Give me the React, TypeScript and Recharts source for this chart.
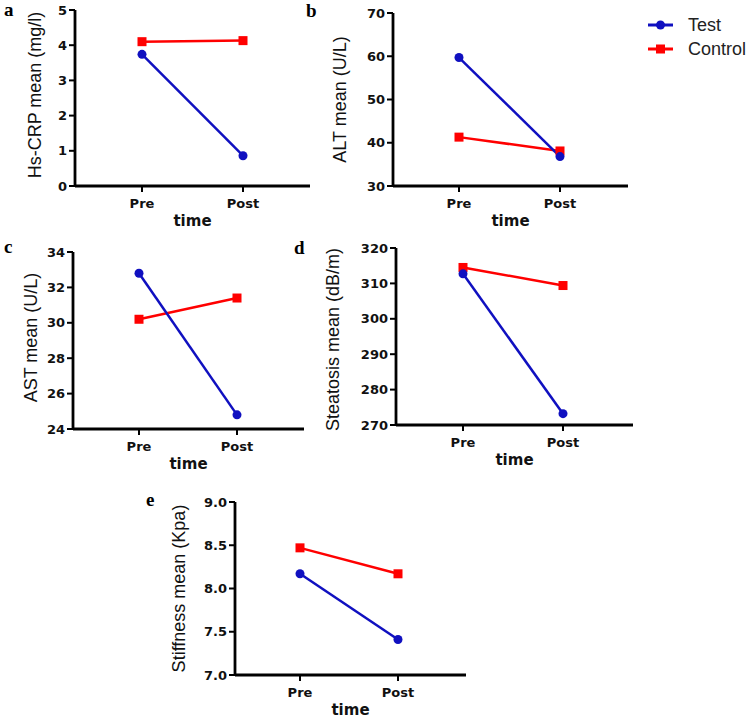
import { LineChart, Line, XAxis, YAxis, Legend } from "recharts";

const timePoints = ["Pre", "Post"];

const hsCrpTest = [3.74, 0.86];
const hsCrpControl = [4.1, 4.13];
const altTest = [59.7, 36.8];
const altControl = [41.3, 38.1];
const astTest = [32.8, 24.8];
const astControl = [30.2, 31.4];
const steatosisTest = [312.7, 273.2];
const steatosisControl = [314.5, 309.4];
const stiffnessTest = [8.17, 7.41];
const stiffnessControl = [8.47, 8.17];

const hsCrpTicks = [0, 1, 2, 3, 4, 5];
const altTicks = [30, 40, 50, 60, 70];
const astTicks = [24, 26, 28, 30, 32, 34];
const steatosisTicks = [270, 280, 290, 300, 310, 320];
const stiffnessTicks = [7.0, 7.5, 8.0, 8.5, 9.0];

const BLUE = "#1010c0";
const RED = "#ff0000";
const TICK_FONT = "'DejaVu Sans', Verdana, sans-serif";
const TITLE_FONT = "'Liberation Sans', Arial, Helvetica, sans-serif";
const LETTER_FONT = "'Liberation Serif', 'Times New Roman', serif";

const LEFT = 75;
const TOP = 12;
const BOTTOM = 50;

type PanelCfg = {
  x0: number;
  x1: number;
  y0: number;
  y1: number;
  padL: number;
  padR: number;
  test: number[];
  control: number[];
  ticks: number[];
  yLabel: string;
  labelGap: number;
  labelShift?: number;
  fmt?: (v: number) => string;
  legend?: boolean;
};

const panels: PanelCfg[] = [
  { x0: 75, x1: 310, y0: 10, y1: 186, padL: 67, padR: 67, test: hsCrpTest, control: hsCrpControl, ticks: hsCrpTicks, yLabel: "Hs-CRP mean (mg/l)", labelGap: 40, labelShift: -3 },
  { x0: 393, x1: 628, y0: 13, y1: 186, padL: 66, padR: 68, test: altTest, control: altControl, ticks: altTicks, yLabel: "ALT mean (U/L)", labelGap: 53, legend: true },
  { x0: 73, x1: 304, y0: 252, y1: 429, padL: 66, padR: 67, test: astTest, control: astControl, ticks: astTicks, yLabel: "AST mean (U/L)", labelGap: 42, labelShift: -3 },
  { x0: 396, x1: 633, y0: 248, y1: 425, padL: 67, padR: 70, test: steatosisTest, control: steatosisControl, ticks: steatosisTicks, yLabel: "Steatosis mean (dB/m)", labelGap: 63, labelShift: 3 },
  { x0: 235, x1: 466, y0: 502, y1: 675, padL: 65, padR: 68, test: stiffnessTest, control: stiffnessControl, ticks: stiffnessTicks, yLabel: "Stiffness mean (Kpa)", labelGap: 56, fmt: (v) => v.toFixed(1) },
];

const letters = [
  { t: "a", x: 4, y: 16 },
  { t: "b", x: 306, y: 17 },
  { t: "c", x: 4, y: 253 },
  { t: "d", x: 294, y: 254 },
  { t: "e", x: 146, y: 506 },
];

function SquareDot(props: any) {
  const { cx, cy, index } = props;
  return <rect key={index} x={cx - 4.5} y={cy - 4.5} width={9} height={9} fill={RED} />;
}

function LegendBox() {
  const items = [
    { name: "Test", color: BLUE, square: false },
    { name: "Control", color: RED, square: true },
  ];
  return (
    <svg width={110} height={50}>
      {items.map((it, i) => {
        const y = 10 + i * 24;
        return (
          <g key={it.name}>
            <line x1={0} x2={25} y1={y} y2={y} stroke={it.color} strokeWidth={3} />
            {it.square ? (
              <rect x={8} y={y - 4.5} width={9} height={9} fill={it.color} />
            ) : (
              <circle cx={12.5} cy={y} r={4.5} fill={it.color} />
            )}
            <text x={40} y={y} dominantBaseline="central" fontSize={18} fontFamily={TITLE_FONT} fill="#222">
              {it.name}
            </text>
          </g>
        );
      })}
    </svg>
  );
}

function Panel({ cfg }: { cfg: PanelCfg }) {
  const plotW = cfg.x1 - cfg.x0;
  const plotH = cfg.y1 - cfg.y0;
  const right = cfg.legend ? 749 - cfg.x1 : 10;
  const width = plotW + LEFT + right;
  const height = plotH + TOP + BOTTOM;
  const data = timePoints.map((t, i) => ({ time: t, test: cfg.test[i], control: cfg.control[i] }));
  const tickStyle = { fill: "#111", fontSize: 13, fontWeight: "bold", fontFamily: TICK_FONT };
  const ly = TOP + plotH / 2 + (cfg.labelShift ?? 0);
  const lx = LEFT - cfg.labelGap;

  return (
    <div style={{ position: "absolute", left: cfg.x0 - LEFT, top: cfg.y0 - TOP }}>
      <LineChart width={width} height={height} data={data} margin={{ top: TOP, right, left: 0, bottom: 0 }}>
        <XAxis
          dataKey="time"
          type="category"
          padding={{ left: cfg.padL, right: cfg.padR }}
          height={BOTTOM}
          axisLine={{ stroke: "#000", strokeWidth: 2.8 }}
          tickLine={{ stroke: "#000", strokeWidth: 2 }}
          tickSize={6}
          tickMargin={7}
          tick={tickStyle}
          label={() => (
            <text x={LEFT + plotW / 2} y={TOP + plotH + 40} textAnchor="middle" fontSize={15} fontWeight="bold" fontFamily={TICK_FONT} fill="#111">
              time
            </text>
          )}
        />
        <YAxis
          type="number"
          domain={[cfg.ticks[0], cfg.ticks[cfg.ticks.length - 1]]}
          ticks={cfg.ticks}
          interval={0}
          width={LEFT}
          axisLine={{ stroke: "#000", strokeWidth: 2.8 }}
          tickLine={{ stroke: "#000", strokeWidth: 2 }}
          tickSize={6}
          tickMargin={2}
          tick={tickStyle}
          tickFormatter={cfg.fmt ?? ((v: number) => String(v))}
          label={() => (
            <text
              x={lx}
              y={ly}
              transform={`rotate(-90 ${lx} ${ly})`}
              textAnchor="middle"
              dominantBaseline="central"
              fontSize={18}
              fontFamily={TITLE_FONT}
              fill="#111"
            >
              {cfg.yLabel}
            </text>
          )}
        />
        {cfg.legend && (
          <Legend
            layout="vertical"
            align="center"
            verticalAlign="middle"
            wrapperStyle={{ left: 648 - (cfg.x0 - LEFT), top: 15 - (cfg.y0 - TOP), width: 110, height: 50 }}
            content={() => <LegendBox />}
          />
        )}
        <Line
          dataKey="control"
          name="Control"
          stroke={RED}
          strokeWidth={2.5}
          dot={SquareDot}
          isAnimationActive={false}
        />
        <Line
          dataKey="test"
          name="Test"
          stroke={BLUE}
          strokeWidth={2.5}
          dot={{ r: 4.5, fill: BLUE, stroke: BLUE, strokeWidth: 0 }}
          isAnimationActive={false}
        />
      </LineChart>
    </div>
  );
}

export default function App() {
  return (
    <div style={{ position: "absolute", left: 0, top: 0, width: 749, height: 720, background: "#fff" }}>
      {panels.map((p, i) => (
        <Panel key={i} cfg={p} />
      ))}
      <svg width={749} height={720} style={{ position: "absolute", left: 0, top: 0, pointerEvents: "none" }}>
        {letters.map((l) => (
          <text key={l.t} x={l.x} y={l.y} fontSize={19} fontWeight="bold" fontFamily={LETTER_FONT} fill="#000">
            {l.t}
          </text>
        ))}
      </svg>
    </div>
  );
}
